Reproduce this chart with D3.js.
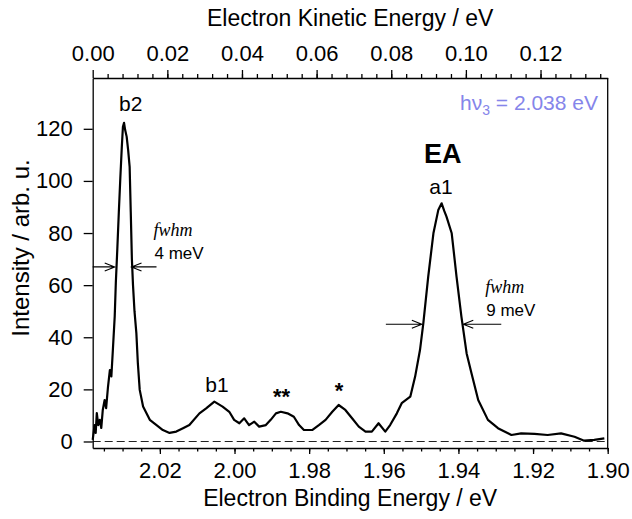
<!DOCTYPE html>
<html>
<head>
<meta charset="utf-8">
<script src="https://cdn.jsdelivr.net/npm/d3@7"></script>
<style>
  body { margin: 0; background: #fff; }
  svg { display: block; font-family: "Liberation Sans", Arial, sans-serif; }
  .axis path, .axis line { stroke: #000; stroke-width: 1.3; }
  .axis text { font-size: 22px; fill: #000; }
</style>
</head>
<body>
<div class="chart-container"></div>
<script>
const photonEnergy = 2.038; // eV

// spectrum: binding energy (eV) and intensity (arb. u.)
const bindingEnergy = [
  2.0380, 2.0375, 2.0372, 2.0369, 2.0365, 2.0361, 2.0357, 2.0353, 2.0348, 2.0344,
  2.0339, 2.0334, 2.0330, 2.0326, 2.0321, 2.0318, 2.0314, 2.0310, 2.0306, 2.0302,
  2.0299, 2.0296, 2.0293, 2.0289, 2.0285, 2.0281, 2.0278, 2.0275, 2.0272, 2.0268,
  2.0263, 2.0259, 2.0254, 2.0245, 2.0227, 2.0209, 2.0192, 2.0174, 2.0156, 2.0138,
  2.0121, 2.0094, 2.0076, 2.0054, 2.0032, 2.0014, 2.0001, 1.9987, 1.9974, 1.9961,
  1.9947, 1.9934, 1.9916, 1.9903, 1.9889, 1.9876, 1.9858, 1.9841, 1.9827, 1.9814,
  1.9792, 1.9774, 1.9756, 1.9738, 1.9721, 1.9703, 1.9685, 1.9667, 1.9649, 1.9632,
  1.9614, 1.9596, 1.9583, 1.9565, 1.9552, 1.9529, 1.9516, 1.9503, 1.9494, 1.9481,
  1.9467, 1.9454, 1.9445, 1.9438, 1.9432, 1.9418, 1.9405, 1.9392, 1.9378, 1.9365,
  1.9347, 1.9321, 1.9294, 1.9258, 1.9232, 1.9196, 1.9161, 1.9125, 1.9089, 1.9063,
  1.9036, 1.9009
];
const intensity = [
  0.6, 6.3, 3.3, 10.9, 6.3, 8.3, 5.2, 12.1, 15.9, 12.8,
  21.0, 27.4, 25.0, 35.0, 48.0, 61.0, 74.0, 88.0, 101.0, 113.0,
  120.8, 122.3, 119.5, 117.0, 111.8, 105.4, 88.0, 70.0, 60.0, 50.0,
  41.6, 30.0, 19.8, 13.4, 8.3, 6.3, 4.4, 3.3, 3.8, 5.1,
  6.3, 10.8, 12.7, 15.3, 13.4, 11.4, 8.3, 7.0, 8.9, 6.3,
  7.6, 5.7, 6.3, 8.3, 10.8, 11.4, 10.8, 9.5, 6.3, 4.4,
  4.4, 6.3, 8.3, 11.4, 14.0, 12.1, 8.9, 5.7, 3.8, 3.8,
  7.0, 3.8, 6.3, 10.8, 14.7, 17.2, 24.9, 35.1, 45.4, 63.2,
  79.9, 88.8, 91.4, 88.5, 86.3, 79.9, 63.2, 47.9, 33.8, 26.2,
  15.9, 8.3, 5.1, 2.5, 3.1, 2.9, 2.5, 3.1, 1.8, 0.3,
  0.6, 1.2
];

const bindingTicks = [2.02, 2.00, 1.98, 1.96, 1.94, 1.92, 1.90];
const kineticTicks = [0.00, 0.02, 0.04, 0.06, 0.08, 0.10, 0.12];
const intensityTicks = [0, 20, 40, 60, 80, 100, 120];

// peak labels: [binding energy, intensity, text]
const peakLabels = [
  [2.0278, 127, "b2"],
  [2.0047, 19, "b1"],
  [1.9447, 95, "a1"]
];
const starLabels = [[1.9874, 14.5, "**"], [1.9720, 16.5, "*"]];

// fwhm markers: [left edge, right edge, height, width text]
const fwhmMarks = [
  [2.0321, 2.0276, 67, "4 meV"],
  [1.9498, 1.9387, 45, "9 meV"]
];

const width = 632;
const height = 519;
const margin = { top: 78, right: 24.3, bottom: 71, left: 92.7 };

const svg = d3.select(".chart-container").append("svg")
  .attr("width", width)
  .attr("height", height);

const x = d3.scaleLinear()
  .domain([photonEnergy, 1.90])
  .range([margin.left, width - margin.right]);

const xKin = d3.scaleLinear()
  .domain([0, photonEnergy - 1.90])
  .range([margin.left, width - margin.right]);

const y = d3.scaleLinear()
  .domain([-2.5, 139.5])
  .range([height - margin.bottom, margin.top]);

const bottomY = height - margin.bottom;

// zero line
svg.append("line")
  .attr("x1", x.range()[0]).attr("x2", x.range()[1])
  .attr("y1", y(0)).attr("y2", y(0))
  .attr("stroke", "#222")
  .attr("stroke-width", 1.1)
  .attr("stroke-dasharray", "8,4");

// bottom axis
const minorBinding = d3.range(2.035, 1.8999, -0.005);
svg.append("g")
  .attr("class", "axis")
  .attr("transform", `translate(0,${bottomY})`)
  .call(d3.axisBottom(x).tickValues(minorBinding).tickSize(3.5).tickFormat(""))
  .call(g => g.select(".domain").remove());
svg.append("g")
  .attr("class", "axis")
  .attr("transform", `translate(0,${bottomY})`)
  .call(d3.axisBottom(x).tickValues(bindingTicks).tickSize(6).tickSizeOuter(0).tickPadding(8)
    .tickFormat(d3.format(".2f")));

// top axis
const minorKinetic = d3.range(0.004, 0.1381, 0.004);
svg.append("g")
  .attr("class", "axis")
  .attr("transform", `translate(0,${margin.top})`)
  .call(d3.axisTop(xKin).tickValues(minorKinetic).tickSize(4).tickFormat(""))
  .call(g => g.select(".domain").remove());
svg.append("g")
  .attr("class", "axis")
  .attr("transform", `translate(0,${margin.top})`)
  .call(d3.axisTop(xKin).tickValues(kineticTicks).tickSize(8).tickSizeOuter(0).tickPadding(9)
    .tickFormat(d3.format(".2f")));

// left axis
svg.append("g")
  .attr("class", "axis")
  .attr("transform", `translate(${margin.left},0)`)
  .call(d3.axisLeft(y).tickValues(intensityTicks).tickSize(9).tickSizeOuter(0).tickPadding(11));

// right frame line
svg.append("line")
  .attr("x1", x.range()[1]).attr("x2", x.range()[1])
  .attr("y1", margin.top).attr("y2", bottomY)
  .attr("stroke", "#000")
  .attr("stroke-width", 1.3);

// axis titles
svg.append("text")
  .attr("x", (x.range()[0] + x.range()[1]) / 2)
  .attr("y", 506)
  .attr("text-anchor", "middle")
  .attr("font-size", 23)
  .text("Electron Binding Energy / eV");

svg.append("text")
  .attr("x", (x.range()[0] + x.range()[1]) / 2)
  .attr("y", 26)
  .attr("text-anchor", "middle")
  .attr("font-size", 23)
  .text("Electron Kinetic Energy / eV");

svg.append("text")
  .attr("transform", `translate(29,248) rotate(-90)`)
  .attr("text-anchor", "middle")
  .attr("font-size", 24)
  .text("Intensity / arb. u.");

// spectrum
const points = bindingEnergy.map((e, i) => [e, intensity[i]]);
svg.append("path")
  .datum(points)
  .attr("fill", "none")
  .attr("stroke", "#000")
  .attr("stroke-width", 2.2)
  .attr("stroke-linejoin", "round")
  .attr("d", d3.line().x(d => x(d[0])).y(d => y(d[1])));

// peak labels
svg.selectAll(".peak-label")
  .data(peakLabels)
  .enter()
  .append("text")
  .attr("class", "peak-label")
  .attr("x", d => x(d[0]))
  .attr("y", d => y(d[1]))
  .attr("text-anchor", "middle")
  .attr("font-size", 21)
  .text(d => d[2]);

svg.selectAll(".star-label")
  .data(starLabels)
  .enter()
  .append("text")
  .attr("class", "star-label")
  .attr("x", d => x(d[0]))
  .attr("y", d => y(d[1]))
  .attr("text-anchor", "middle")
  .attr("font-size", 22)
  .attr("font-weight", "bold")
  .text(d => d[2]);

svg.append("text")
  .attr("x", x(1.9442))
  .attr("y", y(107))
  .attr("text-anchor", "middle")
  .attr("font-size", 27)
  .attr("font-weight", "bold")
  .text("EA");

// photon energy
const hv = svg.append("text")
  .attr("x", 598)
  .attr("y", 110)
  .attr("text-anchor", "end")
  .attr("font-size", 21)
  .attr("fill", "#8585ea");
hv.append("tspan").text("hν");
hv.append("tspan").attr("font-size", 14).attr("dy", 5).text("3");
hv.append("tspan").attr("dy", -5).text(" = " + photonEnergy.toFixed(3) + " eV");

// fwhm arrows
fwhmMarks.forEach(([left, right, level, label], i) => {
  const x1 = x(left);
  const x2 = x(right);
  const yy = y(level);
  const startL = i === 0 ? margin.left : x1 - 36;
  const endR = i === 0 ? x2 + 25 : x2 + 38;
  const g = svg.append("g")
    .attr("stroke", "#000")
    .attr("stroke-width", 1.1)
    .attr("fill", "none");
  g.append("path").attr("d", `M${startL},${yy}H${x1}M${x1 - 10},${yy - 4}L${x1},${yy}L${x1 - 10},${yy + 4}`);
  g.append("path").attr("d", `M${endR},${yy}H${x2}M${x2 + 10},${yy - 4}L${x2},${yy}L${x2 + 10},${yy + 4}`);

  const tx = x2 + 22;
  svg.append("text")
    .attr("x", tx)
    .attr("y", yy - 31)
    .attr("font-family", "Liberation Serif, serif")
    .attr("font-style", "italic")
    .attr("font-size", 18)
    .text("fwhm");
  svg.append("text")
    .attr("x", tx + 1)
    .attr("y", yy - 8)
    .attr("font-size", 17)
    .text(label);
});
</script>
</body>
</html>
